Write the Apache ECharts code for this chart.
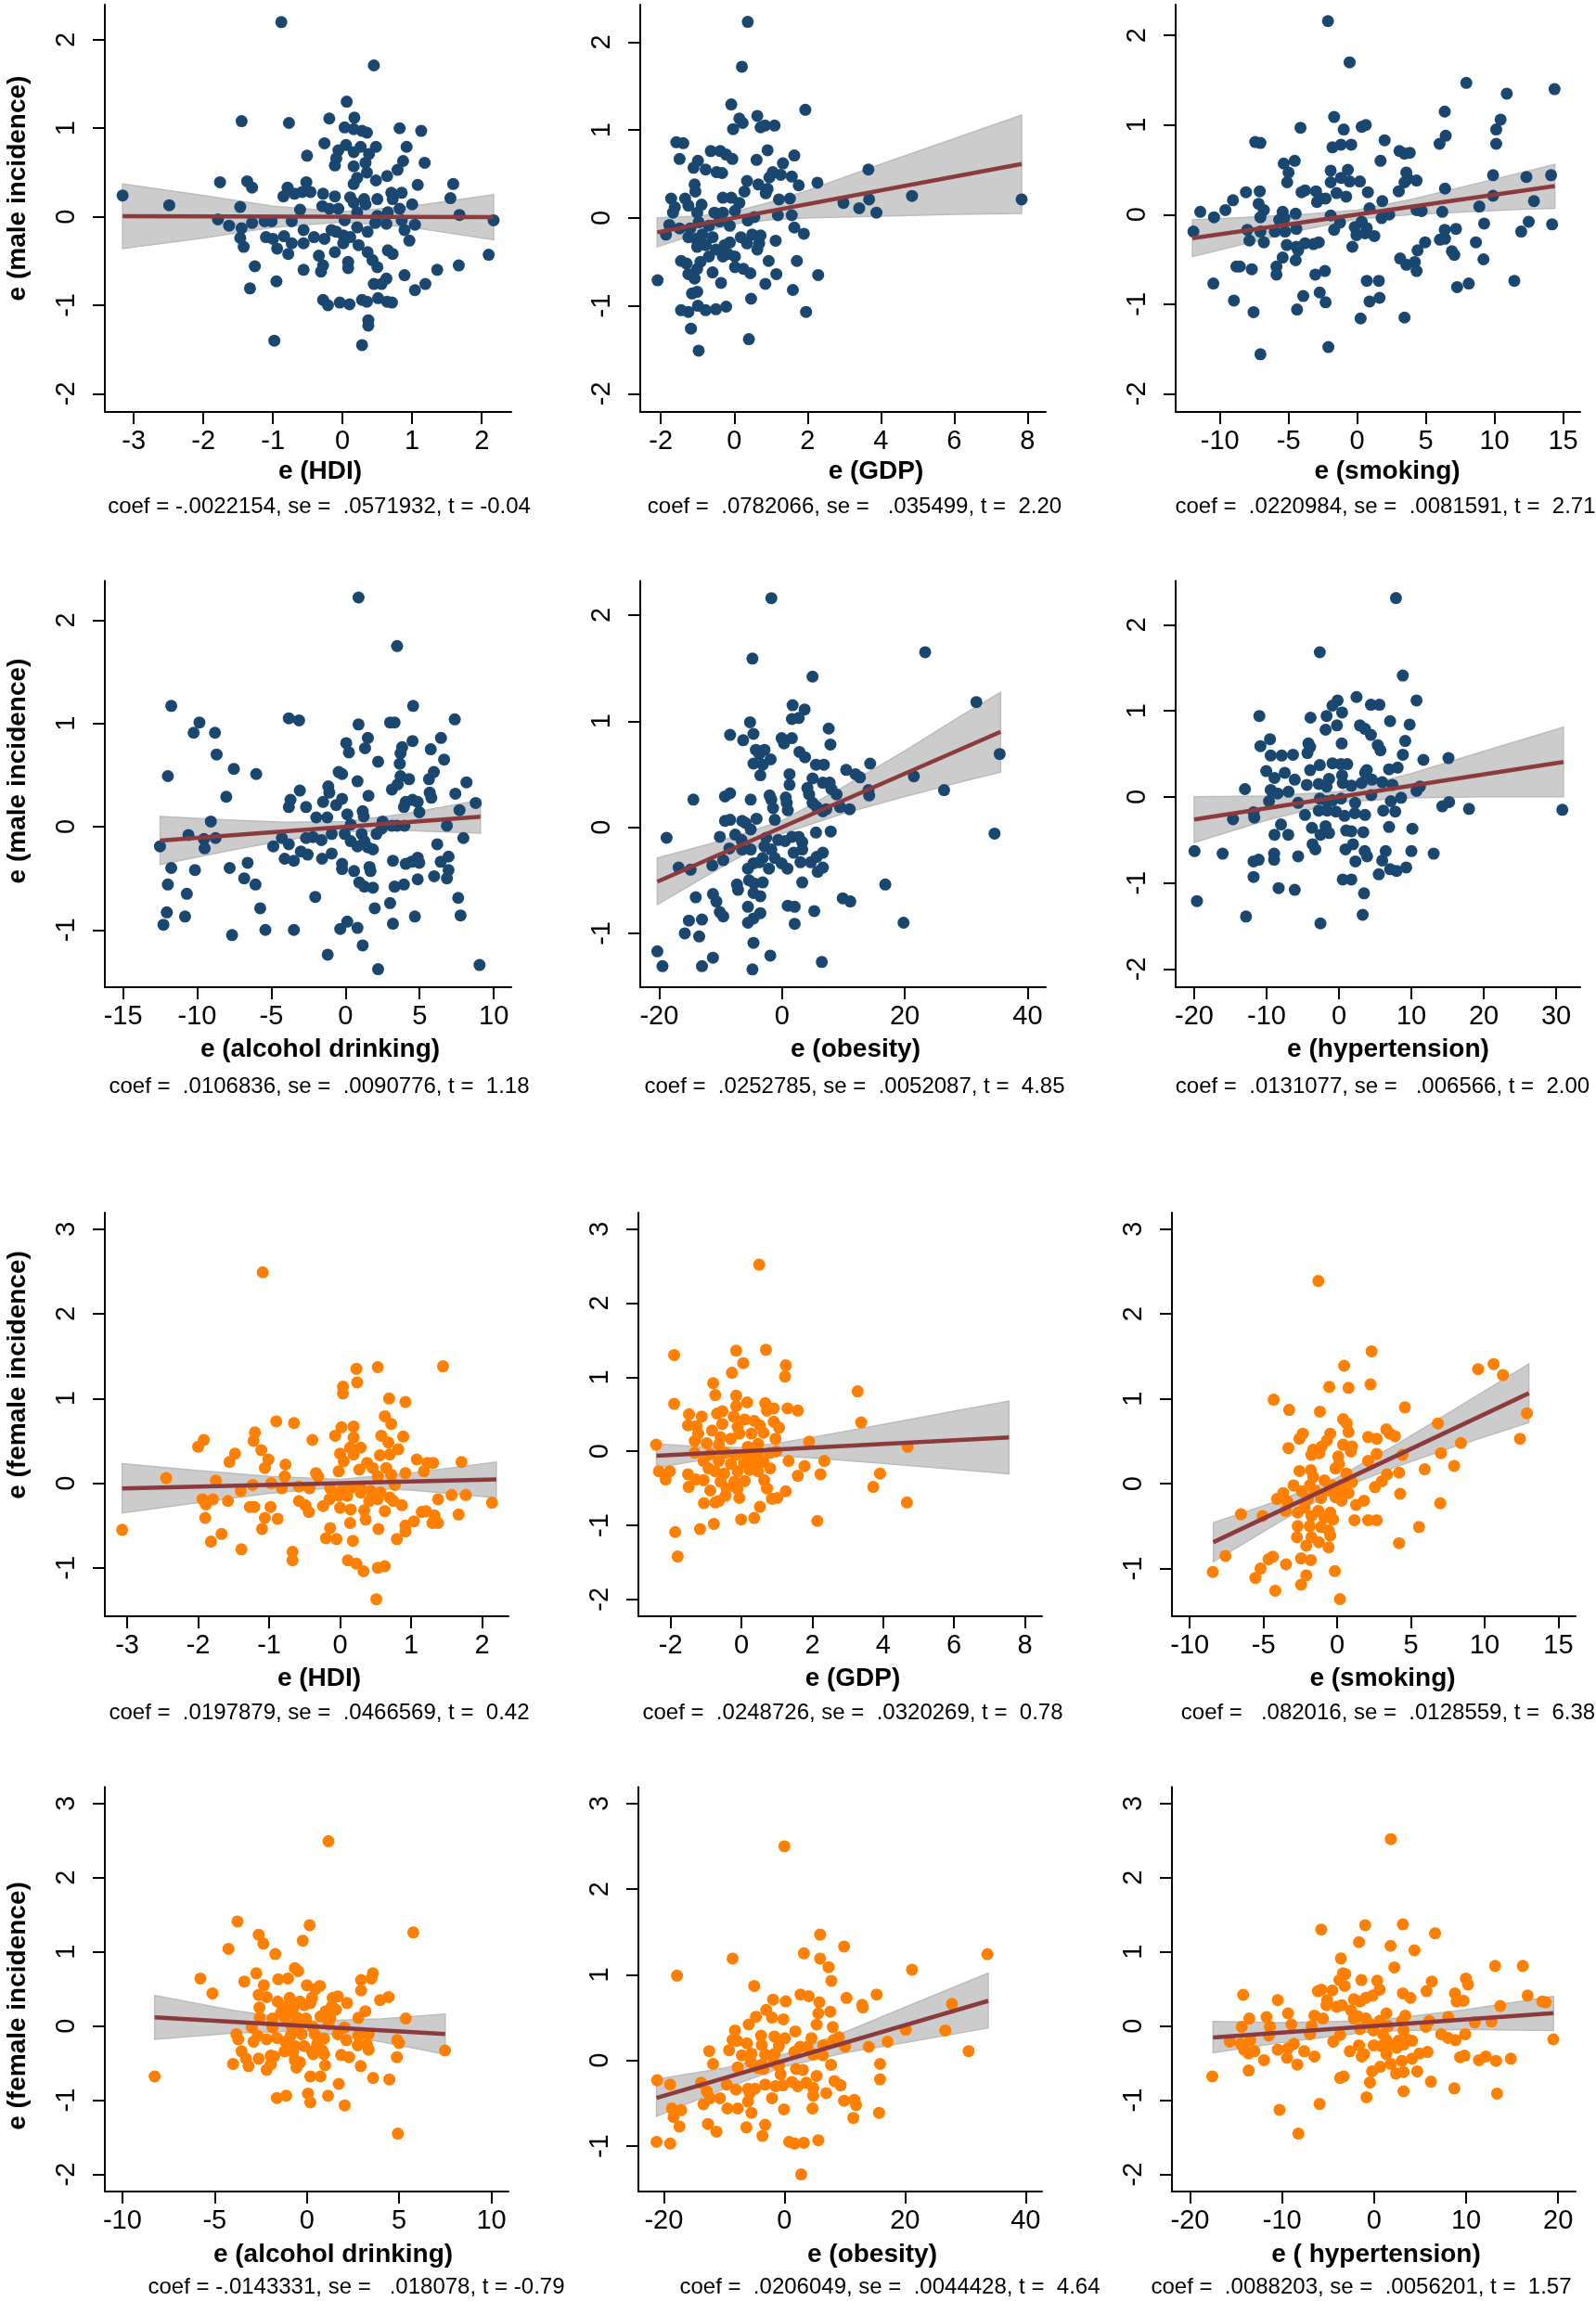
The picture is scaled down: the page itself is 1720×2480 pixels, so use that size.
<!DOCTYPE html>
<html><head><meta charset="utf-8">
<script src="https://cdn.jsdelivr.net/npm/echarts@6/dist/echarts.min.js"></script>
<style>html,body{margin:0;padding:0;background:#fff}#c{width:1720px;height:2480px}</style>
</head><body><div id="c"></div>
<script>
// ---------------- DATA ----------------
const maleHDI = [[-0.88,2.20],[0.45,1.71],[0.06,1.30],[-1.45,1.08],[-0.77,1.06],[-0.19,1.11],[0.17,1.12],[0.03,1.01],[0.16,0.99],[0.28,0.97],[0.35,0.95],[0.82,1.00],[1.13,0.97],[-0.26,0.83],[0.05,0.81],[0.26,0.79],[0.48,0.79],[0.92,0.79],[-0.06,0.75],[0.16,0.73],[0.38,0.71],[-0.51,0.69],[-0.09,0.66],[-0.11,0.58],[0.16,0.57],[0.33,0.61],[0.87,0.63],[1.18,0.61],[0.79,0.53],[0.35,0.50],[0.64,0.46],[0.21,0.44],[0.48,0.41],[-1.76,0.39],[-1.37,0.40],[-1.30,0.33],[-0.52,0.39],[0.16,0.37],[1.08,0.36],[1.59,0.37],[-3.16,0.24],[-2.49,0.13],[-1.47,0.11],[-0.79,0.33],[-0.85,0.23],[-0.69,0.26],[-0.58,0.28],[-0.46,0.28],[-0.28,0.26],[-0.11,0.23],[0.11,0.22],[0.31,0.20],[0.50,0.20],[0.70,0.27],[0.85,0.27],[0.72,0.20],[1.00,0.14],[1.55,0.21],[1.68,0.02],[-0.29,0.12],[-0.19,0.09],[-0.06,0.09],[-0.61,0.08],[0.16,0.16],[0.33,0.14],[0.21,0.05],[0.82,0.09],[0.65,0.05],[0.50,0.01],[-1.79,-0.03],[-1.63,-0.10],[-1.45,-0.13],[-1.30,-0.07],[-1.12,-0.05],[-1.02,-0.05],[-0.73,-0.05],[0.03,-0.04],[0.21,-0.12],[0.47,-0.07],[0.63,-0.08],[0.85,-0.04],[1.04,-0.09],[0.89,-0.15],[2.17,-0.04],[-1.47,-0.24],[-1.42,-0.34],[-1.10,-0.23],[-1.00,-0.25],[-0.94,-0.36],[-0.84,-0.22],[-0.73,-0.30],[-0.78,-0.42],[-0.56,-0.15],[-0.56,-0.30],[-0.41,-0.23],[-0.26,-0.25],[-0.16,-0.15],[-0.09,-0.17],[0.01,-0.21],[0.11,-0.23],[0.01,-0.30],[-0.11,-0.40],[0.23,-0.32],[0.36,-0.17],[0.96,-0.27],[0.36,-0.40],[0.43,-0.49],[0.50,-0.57],[0.65,-0.38],[0.72,-0.42],[-0.34,-0.44],[-0.28,-0.55],[-0.31,-0.62],[0.08,-0.51],[0.08,-0.58],[-0.56,-0.60],[-1.26,-0.56],[1.36,-0.60],[1.67,-0.55],[2.10,-0.43],[0.63,-0.70],[0.45,-0.76],[0.56,-0.76],[0.89,-0.66],[1.04,-0.83],[1.19,-0.76],[-0.95,-0.73],[-1.33,-0.81],[-0.28,-0.94],[-0.21,-1.00],[-0.04,-0.97],[0.10,-0.99],[0.28,-0.94],[0.35,-0.96],[0.51,-0.92],[0.64,-0.96],[0.71,-0.97],[0.37,-1.17],[0.37,-1.23],[-0.98,-1.40],[0.28,-1.45]];
const maleGDP = [[0.37,2.23],[0.21,1.72],[-0.08,1.29],[1.94,1.23],[0.14,1.13],[0.23,1.08],[0.63,1.16],[-0.03,1.01],[0.72,1.03],[0.84,1.05],[1.10,1.05],[-1.58,0.86],[-1.39,0.85],[-0.64,0.76],[-0.38,0.76],[-0.22,0.72],[-0.05,0.67],[0.91,0.77],[1.64,0.71],[-1.49,0.67],[-0.99,0.65],[0.61,0.66],[1.33,0.62],[-1.11,0.57],[-0.78,0.55],[-0.48,0.52],[-0.33,0.51],[1.05,0.52],[1.27,0.49],[1.57,0.47],[0.35,0.42],[0.96,0.46],[2.27,0.40],[-1.08,0.38],[0.66,0.38],[1.76,0.37],[0.91,0.33],[-1.06,0.30],[0.28,0.30],[0.86,0.28],[-1.72,0.22],[-1.34,0.22],[-0.31,0.23],[-0.08,0.23],[0.14,0.17],[1.22,0.21],[1.52,0.22],[2.98,0.17],[3.41,0.11],[3.68,0.21],[3.66,0.55],[4.85,0.25],[3.88,0.06],[7.84,0.21],[-1.62,0.12],[-1.25,0.14],[-0.89,0.15],[-1.01,0.06],[-0.54,0.06],[-0.31,0.06],[0.02,0.08],[-1.67,0.06],[1.19,0.03],[1.57,0.03],[0.55,0.01],[-1.77,-0.08],[-1.86,-0.19],[-1.49,-0.12],[-1.20,-0.12],[-0.97,-0.05],[-0.69,-0.09],[-0.40,-0.04],[-0.12,-0.09],[0.37,-0.03],[1.64,-0.11],[1.90,-0.18],[-1.25,-0.22],[-1.04,-0.24],[-0.87,-0.19],[-0.59,-0.22],[-1.01,-0.33],[-0.78,-0.31],[-0.50,-0.36],[-0.26,-0.31],[-0.12,-0.28],[0.18,-0.22],[0.35,-0.29],[0.49,-0.19],[0.72,-0.20],[0.68,-0.29],[1.13,-0.26],[0.63,-0.36],[-0.69,-0.44],[-0.31,-0.44],[0.02,-0.44],[-0.17,-0.41],[-1.45,-0.49],[-1.30,-0.52],[-0.92,-0.50],[-1.01,-0.58],[0.94,-0.49],[1.71,-0.49],[-0.59,-0.62],[0.02,-0.56],[0.25,-0.58],[0.44,-0.63],[1.15,-0.64],[2.29,-0.65],[-1.25,-0.64],[-1.08,-0.69],[-2.09,-0.71],[-0.36,-0.74],[0.85,-0.75],[-1.15,-0.86],[-1.01,-0.84],[1.60,-0.82],[0.46,-0.92],[-1.45,-1.05],[-1.25,-1.07],[-0.99,-1.00],[-0.78,-1.05],[-0.50,-1.04],[-0.22,-1.01],[1.96,-1.07],[-1.18,-1.26],[0.40,-1.38],[-0.97,-1.51]];
const maleSmoking = [[-2.13,2.16],[-0.55,1.70],[7.95,1.47],[10.9,1.35],[14.38,1.40],[6.38,1.15],[10.45,1.06],[10.13,0.95],[6.45,0.88],[10.13,0.79],[6.0,0.79],[-1.68,1.09],[-4.13,0.97],[-0.98,0.95],[0.33,0.98],[0.63,1.00],[-7.43,0.81],[-7.05,0.80],[-1.8,0.75],[-1.18,0.78],[-0.43,0.78],[2.0,0.83],[3.08,0.71],[3.45,0.68],[3.83,0.69],[-4.55,0.60],[-5.35,0.57],[1.7,0.60],[-5.0,0.47],[-1.93,0.49],[-0.68,0.50],[-1.18,0.41],[-0.55,0.37],[0.2,0.37],[3.58,0.47],[3.7,0.40],[4.33,0.38],[3.45,0.36],[9.9,0.44],[12.33,0.42],[14.13,0.44],[-5.1,0.36],[-1.93,0.36],[6.4,0.29],[-7.1,0.26],[-8.1,0.25],[-3.8,0.27],[-4.05,0.25],[-3.0,0.26],[-1.5,0.24],[-0.8,0.20],[0.78,0.25],[3.03,0.26],[-9.05,0.16],[-2.68,0.18],[-2.3,0.18],[-2.93,0.14],[1.83,0.15],[9.9,0.21],[12.88,0.15],[-11.43,0.03],[-9.6,0.05],[-10.43,-0.03],[-7.18,0.12],[-6.8,0.05],[-7.05,-0.03],[-5.43,0.03],[-4.48,0.01],[-5.3,-0.04],[-5.68,-0.06],[-1.93,-0.01],[0.9,0.07],[1.78,-0.04],[2.33,0.0],[4.33,0.05],[4.7,0.04],[6.2,0.03],[8.9,0.09],[-11.93,-0.19],[-8.0,-0.17],[-7.05,-0.19],[-6.0,-0.19],[-5.25,-0.19],[-4.43,-0.16],[-1.68,-0.17],[-1.25,-0.09],[-0.18,-0.14],[0.33,-0.08],[0.7,-0.15],[-0.05,-0.23],[0.58,-0.21],[1.25,-0.24],[6.38,-0.17],[7.2,-0.16],[9.25,-0.10],[11.95,-0.19],[12.5,-0.08],[14.2,-0.11],[-7.85,-0.29],[-6.8,-0.31],[-5.13,-0.34],[-4.43,-0.36],[-3.8,-0.32],[-3.18,-0.33],[-2.8,-0.31],[-0.35,-0.36],[4.95,-0.31],[6.03,-0.28],[6.4,-0.27],[8.65,-0.31],[-4.3,-0.40],[6.9,-0.41],[7.08,-0.45],[4.4,-0.40],[-5.43,-0.48],[-4.48,-0.51],[3.13,-0.49],[3.58,-0.56],[4.2,-0.53],[9.2,-0.50],[4.33,-0.63],[-8.8,-0.58],[-8.55,-0.58],[-7.68,-0.61],[-5.88,-0.58],[-5.88,-0.67],[-3.05,-0.67],[-2.35,-0.63],[0.7,-0.74],[1.58,-0.74],[7.28,-0.81],[8.13,-0.77],[11.45,-0.74],[-10.48,-0.77],[-2.73,-0.87],[-3.93,-0.91],[0.9,-0.97],[1.63,-0.93],[-8.98,-0.96],[-2.3,-0.98],[-4.38,-1.06],[-7.55,-1.09],[0.25,-1.16],[3.45,-1.15],[-2.1,-1.48],[-7.05,-1.56]];
const maleAlcohol = [[0.88,2.22],[3.48,1.75],[-11.75,1.17],[4.56,1.17],[-9.85,1.01],[-3.82,1.05],[-3.13,1.03],[0.88,0.99],[3.01,1.01],[3.31,1.01],[7.37,1.04],[-10.24,0.91],[-8.8,0.91],[1.51,0.86],[4.52,0.83],[0.05,0.81],[0.23,0.72],[1.32,0.76],[3.82,0.77],[5.75,0.75],[6.44,0.86],[-8.69,0.70],[3.71,0.71],[3.66,0.61],[2.2,0.63],[6.65,0.65],[-7.53,0.56],[-6.02,0.51],[-11.98,0.49],[-0.46,0.53],[-0.23,0.51],[3.71,0.49],[4.29,0.46],[5.63,0.46],[5.96,0.53],[0.81,0.44],[8.16,0.43],[-1.16,0.39],[-1.09,0.33],[-3.08,0.35],[3.13,0.36],[5.68,0.33],[5.79,0.28],[1.55,0.30],[7.41,0.32],[3.52,0.41],[-8.04,0.29],[-3.71,0.26],[-3.82,0.19],[-1.51,0.24],[-0.63,0.21],[-0.23,0.27],[4.06,0.24],[4.52,0.26],[4.87,0.24],[3.94,0.19],[8.78,0.23],[-2.66,0.19],[0.12,0.12],[1.16,0.15],[4.98,0.14],[7.69,0.16],[-9.08,0.05],[-1.97,0.09],[-1.23,0.09],[1.23,0.10],[2.5,0.05],[3.48,0.01],[3.98,0.01],[0.35,0.02],[6.84,0.01],[-12.51,-0.19],[-10.59,-0.08],[-9.55,-0.12],[-8.76,-0.11],[-9.5,-0.21],[-4.87,-0.19],[-4.29,-0.11],[-3.82,-0.17],[-2.66,-0.11],[-2.2,-0.10],[-1.62,-0.13],[-0.93,-0.07],[-0.05,-0.07],[0.35,-0.14],[0.81,-0.19],[1.09,-0.07],[1.27,-0.14],[1.51,-0.20],[1.85,-0.22],[2.09,-0.07],[2.43,-0.02],[3.13,0.01],[7.95,-0.11],[6.19,-0.17],[-11.75,-0.40],[-10.15,-0.42],[-7.81,-0.40],[-6.6,-0.35],[-4.1,-0.31],[-3.48,-0.33],[-3.01,-0.24],[-2.55,-0.27],[-1.58,-0.31],[-0.93,-0.26],[-0.23,-0.36],[-0.23,-0.41],[0.58,-0.43],[1.62,-0.39],[1.69,-0.43],[3.2,-0.33],[4.06,-0.36],[4.45,-0.34],[4.87,-0.30],[4.98,-0.35],[6.42,-0.34],[6.95,-0.29],[6.95,-0.42],[5.98,-0.48],[6.84,-0.50],[4.87,-0.51],[-11.98,-0.56],[-6.83,-0.50],[-6.07,-0.56],[0.93,-0.54],[1.27,-0.58],[1.85,-0.59],[3.31,-0.58],[3.94,-0.56],[-10.7,-0.65],[-2.04,-0.68],[7.6,-0.69],[3.01,-0.74],[-12.05,-0.83],[-5.75,-0.79],[1.97,-0.79],[-10.82,-0.87],[4.68,-0.87],[7.76,-0.86],[-12.28,-0.95],[0.12,-0.92],[-0.35,-0.99],[0.81,-0.98],[3.2,-0.94],[-5.4,-1.00],[-3.48,-1.00],[-7.65,-1.05],[1.16,-1.15],[-1.2,-1.24],[2.2,-1.38],[9.04,-1.34]];
const maleObesity = [[-1.73,2.16],[-4.81,1.59],[23.32,1.65],[4.98,1.42],[31.66,1.18],[1.73,1.15],[3.69,1.11],[1.62,1.02],[2.74,1.03],[-5.2,0.99],[7.61,0.93],[-8.45,0.87],[-6.32,0.82],[-4.64,0.88],[-0.06,0.84],[0.34,0.79],[1.62,0.84],[7.89,0.78],[-4.25,0.73],[-2.85,0.73],[-3.69,0.69],[-1.85,0.64],[-4.64,0.60],[-3.13,0.59],[-3.52,0.49],[2.85,0.71],[3.75,0.66],[5.54,0.59],[6.82,0.59],[14.37,0.60],[10.46,0.54],[11.97,0.50],[12.7,0.47],[21.48,0.48],[35.46,0.69],[1.23,0.50],[1.23,0.40],[4.98,0.46],[6.66,0.42],[7.77,0.42],[4.14,0.37],[4.42,0.31],[8.05,0.36],[8.89,0.31],[14.09,0.35],[14.2,0.30],[26.4,0.35],[-9.28,0.29],[-8.45,0.32],[-14.43,0.26],[-5.09,0.26],[-2.01,0.30],[-1.73,0.26],[0.62,0.28],[0.78,0.23],[0.95,0.16],[-1.45,0.18],[4.98,0.23],[5.65,0.19],[6.66,0.15],[7.21,0.17],[9.45,0.19],[11.02,0.17],[-9.28,0.06],[-8.45,0.07],[-6.49,0.06],[-5.93,0.04],[-4.14,0.08],[-1.17,0.07],[-5.09,-0.02],[-7.61,-0.07],[-10.12,-0.09],[-18.79,-0.10],[5.54,-0.05],[7.94,-0.04],[-6.6,-0.12],[-2.57,-0.10],[-0.62,-0.12],[0.5,-0.13],[1.62,-0.09],[2.74,-0.09],[3.3,-0.14],[-8.56,-0.20],[-6.49,-0.21],[-5.09,-0.21],[-2.85,-0.18],[-1.73,-0.21],[1.9,-0.24],[3.3,-0.21],[6.66,-0.24],[5.65,-0.28],[-9.56,-0.31],[-3.13,-0.29],[-1.17,-0.29],[-16.83,-0.38],[-14.88,-0.40],[-11.35,-0.36],[-5.54,-0.39],[-4.64,-0.34],[-3.69,-0.33],[-2.12,-0.39],[-0.06,-0.34],[0.89,-0.39],[3.02,-0.33],[4.7,-0.33],[6.66,-0.38],[5.82,-0.42],[-7.33,-0.54],[-7.16,-0.59],[-5.37,-0.50],[-4.53,-0.53],[-3.13,-0.52],[3.3,-0.52],[16.83,-0.54],[-4.64,-0.62],[-3.52,-0.65],[-14.04,-0.66],[-11.24,-0.63],[-10.68,-0.70],[-5.54,-0.75],[0.95,-0.74],[2.07,-0.75],[9.9,-0.67],[11.13,-0.70],[-10.12,-0.80],[-9.56,-0.84],[-3.52,-0.81],[-4.64,-0.86],[5.26,-0.79],[-5.54,-0.90],[-15.16,-0.88],[-13.03,-0.87],[19.8,-0.90],[2.07,-0.91],[-15.83,-1.00],[-13.48,-1.03],[-4.64,-1.09],[-20.3,-1.17],[-1.9,-1.21],[-11.24,-1.23],[6.49,-1.27],[-19.46,-1.31],[-13.03,-1.31],[-4.81,-1.34],[34.62,-0.06]];
const maleHypertension = [[7.87,2.31],[-2.65,1.68],[8.82,1.41],[2.42,1.16],[10.71,1.12],[4.41,1.07],[5.59,1.07],[-0.19,1.12],[-0.9,1.06],[0.43,0.98],[-11.0,0.94],[-3.93,0.92],[-1.71,0.94],[7.06,0.88],[-0.28,0.83],[2.89,0.83],[3.6,0.79],[-1.85,0.78],[9.76,0.84],[4.41,0.72],[-9.53,0.67],[-4.22,0.62],[0.38,0.62],[9.15,0.65],[-10.85,0.59],[-3.98,0.58],[5.36,0.60],[5.73,0.54],[-4.36,0.51],[-9.43,0.48],[-7.91,0.48],[-6.35,0.49],[8.82,0.49],[11.66,0.43],[15.12,0.45],[-10.05,0.30],[-3.98,0.31],[-2.65,0.37],[-0.9,0.39],[0.28,0.38],[1.14,0.38],[3.84,0.31],[6.92,0.32],[8.1,0.34],[-7.49,0.28],[-8.91,0.22],[-6.11,0.20],[-1.37,0.21],[0.43,0.25],[3.6,0.28],[-12.99,0.09],[-9.43,0.08],[-8.48,0.04],[-6.97,0.06],[-4.45,0.14],[-2.8,0.15],[-1.71,0.12],[0.52,0.16],[1.71,0.13],[3.13,0.16],[4.55,0.20],[5.97,0.17],[7.39,0.14],[10.71,0.07],[11.18,0.12],[-9.67,-0.05],[-5.64,-0.07],[-2.65,-0.02],[-1.71,-0.05],[-0.9,-0.04],[0.28,-0.02],[2.23,-0.07],[4.46,0.02],[7.16,-0.05],[8.58,-0.01],[15.21,-0.06],[14.27,-0.11],[17.96,-0.14],[30.85,-0.15],[-14.64,-0.26],[-11.8,-0.18],[-11.7,-0.24],[-4.69,-0.21],[-2.8,-0.16],[-1.61,-0.16],[-0.43,-0.17],[0.76,-0.22],[2.18,-0.19],[3.6,-0.21],[6.11,-0.16],[7.77,-0.17],[-8.01,-0.32],[-3.74,-0.36],[-1.85,-0.34],[-1.37,-0.42],[0.99,-0.39],[1.71,-0.40],[3.36,-0.41],[6.92,-0.35],[10.14,-0.37],[-8.91,-0.44],[-7.01,-0.44],[-2.56,-0.44],[-3.65,-0.55],[-3.27,-0.61],[1.94,-0.55],[0.9,-0.61],[3.55,-0.63],[3.88,-0.69],[6.45,-0.63],[10.0,-0.63],[13.08,-0.66],[-19.95,-0.63],[-16.07,-0.66],[-8.96,-0.66],[-5.64,-0.69],[-8.96,-0.73],[-11.8,-0.75],[-11.09,-0.73],[2.27,-0.75],[5.97,-0.74],[7.06,-0.84],[7.96,-0.86],[9.29,-0.82],[-11.8,-0.93],[5.5,-0.90],[0.52,-0.96],[1.71,-0.96],[-8.34,-1.06],[-6.11,-1.08],[3.46,-1.12],[-19.62,-1.21],[-12.84,-1.39],[3.27,-1.37],[-2.56,-1.47]];
const femaleHDI = [[-1.09,2.49],[0.23,1.35],[0.53,1.37],[1.45,1.38],[0.24,1.19],[0.04,1.14],[0.04,1.06],[0.69,1.00],[0.92,0.96],[-0.9,0.73],[-0.65,0.71],[0.63,0.79],[0.72,0.70],[0.19,0.67],[0.02,0.66],[-1.2,0.60],[-1.92,0.51],[-1.22,0.50],[-0.39,0.51],[-0.07,0.56],[0.19,0.54],[0.58,0.56],[0.89,0.55],[0.68,0.48],[-2.0,0.43],[-1.11,0.39],[0.14,0.42],[0.29,0.42],[0.82,0.40],[-1.48,0.35],[0.0,0.35],[0.19,0.34],[0.56,0.33],[0.70,0.34],[-1.56,0.25],[-1.01,0.28],[-0.77,0.22],[0.05,0.26],[0.38,0.24],[1.08,0.28],[1.31,0.24],[1.71,0.25],[-1.06,0.18],[-0.34,0.12],[-0.02,0.14],[0.27,0.16],[0.46,0.18],[0.65,0.18],[0.92,0.12],[1.18,0.14],[1.23,0.24],[-2.45,0.06],[-0.78,0.08],[-0.31,0.08],[0.53,0.08],[0.72,0.10],[-1.75,0.03],[-1.23,-0.02],[-0.97,0.0],[-0.82,-0.06],[-0.58,-0.04],[-0.43,-0.06],[-0.14,-0.06],[0.02,-0.09],[0.14,-0.06],[0.29,-0.06],[0.43,-0.09],[0.77,-0.02],[-1.4,-0.09],[-0.15,-0.19],[-0.02,-0.15],[0.10,-0.15],[0.29,-0.11],[0.57,-0.11],[0.70,-0.17],[1.57,-0.14],[1.77,-0.14],[-1.94,-0.19],[-1.79,-0.19],[-1.89,-0.25],[-1.58,-0.21],[-0.58,-0.21],[-0.49,-0.26],[0.41,-0.21],[0.53,-0.19],[1.38,-0.19],[2.14,-0.23],[-0.24,-0.27],[0.0,-0.29],[0.15,-0.31],[0.34,-0.32],[0.75,-0.21],[0.87,-0.26],[-1.27,-0.28],[-1.21,-0.28],[-0.98,-0.28],[-0.44,-0.34],[0.63,-0.33],[1.15,-0.34],[1.21,-0.33],[1.33,-0.38],[1.67,-0.37],[0.36,-0.43],[-1.06,-0.41],[-0.88,-0.42],[-1.9,-0.41],[1.04,-0.45],[1.30,-0.47],[1.38,-0.47],[0.14,-0.47],[0.92,-0.50],[-0.14,-0.53],[-1.1,-0.54],[0.54,-0.54],[-3.07,-0.55],[0.92,-0.57],[-1.67,-0.60],[-0.2,-0.65],[-0.05,-0.66],[0.18,-0.68],[0.8,-0.66],[-1.82,-0.69],[-1.39,-0.78],[-0.67,-0.81],[-0.67,-0.91],[0.11,-0.91],[0.23,-0.95],[0.33,-1.04],[0.53,-1.00],[0.63,-0.98],[0.51,-1.37]];
const femaleGDP = [[0.5,2.52],[-1.9,1.30],[-0.15,1.36],[0.69,1.37],[0.05,1.19],[1.25,1.16],[-0.27,1.06],[1.23,1.01],[-0.80,0.92],[3.28,0.81],[-0.74,0.76],[-0.15,0.75],[-1.9,0.64],[0.16,0.66],[0.67,0.65],[-0.15,0.61],[0.91,0.58],[0.72,0.55],[1.30,0.58],[1.59,0.55],[-0.69,0.51],[-0.54,0.54],[-1.48,0.50],[-1.12,0.47],[-0.22,0.47],[0.09,0.43],[0.36,0.41],[3.38,0.39],[0.91,0.40],[-1.51,0.35],[-1.27,0.34],[-0.54,0.37],[-0.11,0.33],[0.52,0.35],[1.06,0.32],[-0.83,0.28],[-0.06,0.24],[0.28,0.24],[0.62,0.25],[-1.22,0.24],[-0.59,0.19],[-0.30,0.17],[0.96,0.17],[1.91,0.13],[-2.41,0.09],[-1.32,0.14],[-0.98,0.11],[-0.64,0.09],[0.18,0.06],[0.47,0.10],[0.98,0.0],[4.69,0.06],[-1.32,-0.02],[-0.88,-0.04],[-0.45,-0.02],[-0.17,-0.05],[0.14,-0.04],[0.47,-0.04],[0.81,-0.02],[-1.07,-0.13],[-0.64,-0.13],[-0.30,-0.17],[0.07,-0.16],[0.33,-0.14],[0.62,-0.14],[1.33,-0.13],[2.34,-0.13],[-2.33,-0.27],[-2.02,-0.27],[-2.14,-0.38],[-1.51,-0.31],[-0.93,-0.23],[-0.74,-0.27],[-0.49,-0.30],[-0.11,-0.27],[0.23,-0.25],[0.47,-0.27],[0.81,-0.23],[1.78,-0.20],[1.59,-0.33],[2.23,-0.31],[3.91,-0.30],[-1.29,-0.38],[-1.07,-0.39],[-0.59,-0.41],[-0.20,-0.41],[0.09,-0.40],[0.64,-0.39],[-1.49,-0.48],[-0.88,-0.53],[-0.42,-0.50],[-0.11,-0.51],[0.72,-0.50],[1.25,-0.54],[3.72,-0.48],[-0.45,-0.60],[-0.06,-0.63],[0.86,-0.64],[1.01,-0.63],[-1.06,-0.70],[-0.74,-0.69],[-0.64,-0.67],[4.67,-0.69],[0.52,-0.75],[0.36,-0.90],[-0.01,-0.92],[2.14,-0.94],[-0.78,-0.98],[-1.17,-1.05],[-1.87,-1.09],[-1.80,-1.42]];
const femaleSmoking = [[-1.28,2.39],[2.33,1.56],[0.47,1.39],[9.56,1.35],[10.61,1.41],[11.24,1.28],[2.26,1.17],[-0.54,1.14],[0.77,1.13],[-4.31,0.99],[4.59,0.90],[-3.26,0.87],[-1.17,0.85],[12.87,0.83],[0.40,0.76],[0.65,0.71],[6.83,0.71],[0.77,0.61],[3.33,0.64],[3.57,0.59],[3.92,0.56],[-0.47,0.59],[-2.33,0.59],[-2.56,0.53],[2.10,0.55],[2.68,0.53],[12.4,0.53],[8.39,0.48],[-0.70,0.51],[-1.05,0.44],[0.40,0.46],[1.00,0.44],[-3.31,0.42],[-1.63,0.40],[-1.75,0.34],[-1.21,0.36],[0.93,0.38],[2.68,0.35],[7.04,0.36],[4.43,0.34],[0.07,0.32],[0.12,0.23],[2.10,0.27],[7.93,0.21],[5.94,0.17],[-2.56,0.15],[-1.79,0.16],[-0.12,0.18],[0.63,0.12],[4.20,0.13],[3.38,0.11],[-1.63,0.08],[-0.86,0.04],[1.00,0.02],[3.03,0.03],[-2.96,-0.02],[-1.86,-0.02],[-0.35,-0.02],[0.35,-0.01],[2.56,-0.04],[-3.66,-0.11],[-2.40,-0.09],[-1.52,-0.08],[-0.58,-0.08],[0.23,-0.09],[0.77,-0.11],[4.27,-0.12],[-4.08,-0.18],[-3.38,-0.21],[-1.98,-0.18],[-1.10,-0.17],[-0.12,-0.16],[0.30,-0.20],[1.28,-0.25],[1.82,-0.20],[6.99,-0.23],[-3.50,-0.32],[-2.68,-0.34],[-2.21,-0.28],[-1.28,-0.32],[-0.47,-0.34],[-0.28,-0.42],[-6.53,-0.36],[-5.06,-0.38],[-1.75,-0.38],[-0.86,-0.40],[1.17,-0.43],[2.10,-0.43],[2.68,-0.43],[-2.68,-0.50],[-1.86,-0.50],[-1.10,-0.51],[-0.58,-0.55],[5.55,-0.51],[-2.73,-0.63],[-1.75,-0.63],[-0.47,-0.61],[-2.10,-0.73],[-1.24,-0.69],[-0.58,-0.75],[4.20,-0.70],[-7.58,-0.85],[-4.36,-0.86],[-4.66,-0.89],[-2.45,-0.88],[-1.79,-0.90],[-3.47,-0.95],[-5.20,-1.00],[-8.44,-1.04],[-0.16,-1.03],[-5.55,-1.11],[-2.10,-1.08],[-2.45,-1.19],[-4.20,-1.26],[0.19,-1.36]];
const femaleAlcohol = [[1.17,2.49],[-3.76,1.41],[0.15,1.36],[5.77,1.26],[-2.61,1.23],[-2.36,1.11],[-0.22,1.15],[-4.25,1.04],[-1.71,0.97],[-0.65,0.78],[-0.47,0.74],[-2.74,0.71],[3.58,0.71],[-5.77,0.64],[-3.39,0.60],[-1.55,0.63],[-1.02,0.64],[2.94,0.62],[3.50,0.64],[-2.33,0.55],[0.0,0.55],[0.71,0.54],[0.47,0.50],[-5.12,0.44],[2.94,0.48],[-2.61,0.42],[-2.18,0.39],[-0.93,0.38],[0.28,0.38],[1.40,0.38],[1.68,0.40],[3.97,0.35],[4.43,0.39],[-1.58,0.33],[-0.37,0.33],[0.19,0.31],[2.18,0.31],[1.36,0.27],[-2.57,0.25],[-1.30,0.26],[-0.74,0.24],[-0.13,0.28],[-1.40,0.18],[-0.88,0.17],[1.02,0.20],[1.58,0.22],[3.17,0.20],[-2.55,0.11],[-1.86,0.10],[-1.21,0.12],[-0.50,0.11],[-0.04,0.10],[0.74,0.13],[1.27,0.10],[2.79,0.11],[5.36,0.10],[-2.98,-0.02],[-1.86,-0.02],[-0.84,0.0],[-0.50,-0.02],[0.32,-0.01],[1.17,0.02],[2.05,-0.02],[-3.82,-0.11],[-3.72,-0.18],[-2.66,-0.13],[-2.18,-0.18],[-1.62,-0.16],[-0.88,-0.13],[-0.28,-0.11],[0.43,-0.11],[0.93,-0.17],[1.68,-0.11],[2.79,-0.13],[3.35,-0.11],[-2.89,-0.21],[-1.17,-0.21],[-0.65,-0.27],[-0.15,-0.27],[0.56,-0.24],[2.14,-0.19],[4.90,-0.19],[5.0,-0.23],[2.76,-0.26],[3.26,-0.25],[7.49,-0.33],[-3.54,-0.34],[-1.21,-0.34],[-0.74,-0.35],[0.28,-0.34],[0.84,-0.33],[3.35,-0.32],[-1.96,-0.40],[-1.77,-0.41],[0.34,-0.38],[0.93,-0.38],[1.86,-0.39],[2.29,-0.42],[4.88,-0.42],[-3.30,-0.44],[-2.61,-0.44],[-0.65,-0.46],[-0.37,-0.49],[0.99,-0.53],[-4.00,-0.51],[-3.16,-0.54],[-1.96,-0.52],[-0.56,-0.56],[-2.18,-0.59],[2.92,-0.54],[0.19,-0.68],[0.74,-0.68],[3.59,-0.70],[4.47,-0.72],[-8.25,-0.68],[1.73,-0.78],[-1.62,-0.97],[-1.12,-0.94],[0.06,-0.91],[1.15,-0.94],[0.19,-1.03],[2.05,-1.07],[4.93,-1.45]];
const femaleObesity = [[0.0,2.50],[5.92,1.47],[9.90,1.33],[33.67,1.24],[3.24,1.25],[-8.59,1.19],[5.92,1.19],[7.34,1.09],[21.16,1.06],[-17.80,0.99],[7.79,0.93],[-5.01,0.87],[2.67,0.77],[4.04,0.75],[15.30,0.77],[-1.88,0.71],[0.23,0.69],[5.80,0.68],[10.30,0.73],[12.91,0.65],[13.02,0.62],[27.8,0.66],[-3.01,0.59],[5.63,0.55],[7.62,0.57],[-4.72,0.51],[-2.05,0.50],[-0.17,0.48],[-5.92,0.42],[5.35,0.42],[1.82,0.34],[8.02,0.39],[-8.19,0.35],[20.14,0.36],[26.68,0.35],[-8.59,0.24],[-7.85,0.23],[-3.87,0.29],[-1.65,0.28],[0.11,0.26],[4.49,0.26],[8.19,0.24],[9.04,0.27],[-9.16,0.12],[-12.46,0.11],[-6.2,0.20],[-3.75,0.18],[-0.91,0.17],[2.62,0.16],[3.81,0.16],[6.48,0.18],[10.07,0.16],[14.0,0.16],[17.12,0.22],[30.55,0.11],[-7.05,0.06],[-5.46,0.08],[-3.19,0.07],[-1.59,0.08],[1.65,0.10],[4.78,0.07],[6.37,0.06],[-11.83,-0.04],[-7.74,-0.08],[-5.57,-0.02],[-3.75,-0.05],[-1.71,-0.02],[-0.91,-0.06],[1.93,-0.10],[3.07,-0.11],[7.74,-0.05],[15.87,-0.04],[-4.32,-0.09],[-3.47,-0.10],[-0.63,-0.16],[5.35,-0.18],[8.30,-0.24],[15.87,-0.22],[-21.1,-0.23],[-18.94,-0.28],[-13.82,-0.26],[-9.56,-0.28],[-8.02,-0.34],[-6.03,-0.33],[-4.89,-0.33],[-3.19,-0.28],[-1.48,-0.30],[-0.23,-0.29],[1.25,-0.25],[2.22,-0.30],[3.64,-0.26],[4.78,-0.32],[6.94,-0.38],[9.33,-0.29],[-12.86,-0.36],[-12.29,-0.44],[-10.69,-0.44],[-6.03,-0.48],[-2.05,-0.44],[4.78,-0.41],[9.90,-0.47],[11.60,-0.46],[-13.42,-0.51],[-5.75,-0.38],[-18.66,-0.56],[-17.12,-0.58],[-18.38,-0.66],[-9.44,-0.56],[-7.74,-0.56],[-5.46,-0.61],[-0.06,-0.57],[4.66,-0.56],[11.89,-0.52],[15.70,-0.61],[11.43,-0.67],[-12.68,-0.74],[-17.4,-0.77],[-11.26,-0.83],[-6.31,-0.78],[-3.19,-0.75],[-3.64,-0.88],[-21.2,-0.95],[-18.94,-0.97],[0.80,-0.95],[1.65,-0.97],[3.24,-0.96],[5.63,-0.93],[2.79,-1.33]];
const femaleHypertension = [[1.82,2.52],[-5.74,1.30],[-0.97,1.36],[3.13,1.37],[6.63,1.25],[-1.64,1.13],[1.79,1.08],[4.39,1.02],[-3.61,0.91],[2.20,0.79],[13.15,0.81],[16.16,0.81],[-3.39,0.71],[-3.13,0.70],[-3.76,0.62],[-1.38,0.62],[0.34,0.61],[6.26,0.60],[9.98,0.64],[10.21,0.56],[-3.20,0.54],[-6.11,0.47],[-5.74,0.49],[-4.54,0.48],[0.60,0.49],[5.70,0.47],[-14.23,0.42],[-0.15,0.41],[3.13,0.44],[3.95,0.38],[8.79,0.44],[16.69,0.41],[-10.47,0.35],[-5.10,0.35],[-2.20,0.36],[-1.53,0.33],[-0.89,0.38],[8.98,0.33],[9.72,0.34],[18.29,0.33],[18.66,0.32],[-5.18,0.28],[-4.06,0.26],[-3.50,0.28],[-2.50,0.21],[13.71,0.27],[-9.35,0.17],[-6.48,0.14],[-1.75,0.13],[1.34,0.17],[3.39,0.14],[-13.56,0.10],[-11.69,0.12],[-5.55,0.10],[-2.20,0.10],[-0.89,0.10],[0.60,0.07],[3.02,0.07],[6.00,0.07],[8.04,0.12],[10.95,0.05],[12.77,0.06],[-14.38,-0.01],[-11.32,-0.01],[-8.98,0.02],[-6.78,0.0],[-0.52,0.03],[1.53,0.0],[5.62,-0.01],[-6.96,-0.11],[-3.69,-0.12],[-1.53,-0.04],[-0.07,-0.06],[0.97,-0.11],[3.20,-0.06],[7.30,-0.11],[9.91,-0.11],[-15.68,-0.21],[-14.49,-0.24],[-13.45,-0.19],[-11.43,-0.13],[-8.72,-0.24],[-4.43,-0.21],[1.34,-0.19],[2.64,-0.20],[3.76,-0.19],[8.04,-0.16],[8.86,-0.19],[19.48,-0.18],[-14.12,-0.32],[-13.00,-0.34],[-10.47,-0.32],[-9.35,-0.30],[-7.60,-0.34],[-2.64,-0.34],[-1.64,-0.26],[-1.08,-0.38],[-0.04,-0.26],[0.78,-0.27],[1.60,-0.25],[2.46,-0.29],[3.20,-0.25],[4.13,-0.20],[4.95,-0.37],[5.81,-0.35],[-13.63,-0.37],[-6.48,-0.41],[-9.46,-0.43],[-11.96,-0.46],[-8.34,-0.52],[-1.34,-0.41],[1.34,-0.38],[3.02,-0.47],[4.13,-0.44],[9.35,-0.42],[9.83,-0.40],[11.40,-0.46],[12.14,-0.41],[13.26,-0.47],[14.86,-0.44],[-13.63,-0.60],[1.82,-0.51],[0.67,-0.55],[-0.22,-0.61],[2.38,-0.64],[3.20,-0.62],[4.69,-0.61],[-17.58,-0.68],[-3.69,-0.70],[-3.31,-0.68],[-0.45,-0.76],[6.18,-0.75],[8.72,-0.84],[3.20,-0.88],[13.37,-0.91],[-0.82,-0.96],[-5.92,-1.05],[-10.28,-1.13],[-8.23,-1.45]];

// fitted lines (endpoints) and confidence bands
const maleHDI_fit = [[-3.16,0.007],[2.17,-0.005]];
const maleHDI_bandX = [-3.16,-2,-1,0,1,2.17];
const maleHDI_bandHi = [0.37,0.24,0.12,0.055,0.12,0.25];
const maleHDI_bandLo = [-0.36,-0.24,-0.12,-0.06,-0.12,-0.26];
const maleGDP_fit = [[-2.1,-0.164],[7.84,0.613]];
const maleGDP_bandX = [-2.1,-1,0,1,2,4,6,7.84];
const maleGDP_bandHi = [0.00,0.02,0.07,0.18,0.31,0.61,0.90,1.17];
const maleGDP_bandLo = [-0.33,-0.18,-0.07,-0.02,0.00,0.02,0.04,0.05];
const maleSmoking_fit = [[-12,-0.265],[14.4,0.318]];
const maleSmoking_bandX = [-12,-8,-4,0,4,8,12,14.4];
const maleSmoking_bandHi = [-0.06,-0.03,0.00,0.05,0.17,0.32,0.47,0.56];
const maleSmoking_bandLo = [-0.47,-0.32,-0.17,-0.05,0.00,0.03,0.06,0.07];
const maleAlcohol_fit = [[-12.5,-0.134],[9.1,0.097]];
const maleAlcohol_bandX = [-12.5,-8,-4,0,4,9.1];
const maleAlcohol_bandHi = [0.10,0.065,0.042,0.05,0.123,0.257];
const maleAlcohol_bandLo = [-0.366,-0.235,-0.128,-0.05,-0.037,-0.063];
const maleObesity_fit = [[-20.3,-0.513],[35.6,0.90]];
const maleObesity_bandX = [-20.3,-10,0,10,20,30,35.6];
const maleObesity_bandHi = [-0.29,-0.13,0.06,0.38,0.72,1.08,1.27];
const maleObesity_bandLo = [-0.73,-0.38,-0.06,0.13,0.29,0.44,0.52];
const maleHypertension_fit = [[-20,-0.262],[31,0.406]];
const maleHypertension_bandX = [-20,-10,0,10,20,31];
const maleHypertension_bandHi = [0.00,0.01,0.06,0.27,0.53,0.81];
const maleHypertension_bandLo = [-0.53,-0.27,-0.06,-0.01,0.00,0.00];
const femaleHDI_fit = [[-3.07,-0.061],[2.2,0.044]];
const femaleHDI_bandX = [-3.07,-2,-1,0,1,2.2];
const femaleHDI_bandHi = [0.23,0.15,0.08,0.045,0.12,0.25];
const femaleHDI_bandLo = [-0.35,-0.23,-0.12,-0.045,-0.08,-0.17];
const femaleGDP_fit = [[-2.4,-0.06],[7.55,0.188]];
const femaleGDP_bandX = [-2.4,-1,0,1,2,4,6,7.55];
const femaleGDP_bandHi = [0.10,0.057,0.05,0.107,0.189,0.363,0.54,0.678];
const femaleGDP_bandLo = [-0.22,-0.107,-0.05,-0.057,-0.089,-0.163,-0.242,-0.302];
const femaleSmoking_fit = [[-8.4,-0.689],[13,1.066]];
const femaleSmoking_bandX = [-8.4,-4,0,4,8,13];
const femaleSmoking_bandHi = [-0.46,-0.20,0.07,0.46,0.88,1.41];
const femaleSmoking_bandLo = [-0.92,-0.46,-0.07,0.20,0.44,0.72];
const femaleAlcohol_fit = [[-8.25,0.118],[7.5,-0.107]];
const femaleAlcohol_bandX = [-8.25,-4,0,4,7.5];
const femaleAlcohol_bandHi = [0.41,0.21,0.065,0.095,0.16];
const femaleAlcohol_bandLo = [-0.18,-0.095,-0.065,-0.21,-0.38];
const femaleObesity_fit = [[-21.2,-0.437],[33.8,0.696]];
const femaleObesity_bandX = [-21.2,-10,0,10,20,33.8];
const femaleObesity_bandHi = [-0.22,-0.09,0.07,0.33,0.62,1.02];
const femaleObesity_bandLo = [-0.65,-0.33,-0.07,0.09,0.21,0.38];
const femaleHypertension_fit = [[-17.5,-0.154],[19.5,0.172]];
const femaleHypertension_bandX = [-17.5,-10,0,10,19.5];
const femaleHypertension_bandHi = [0.06,0.045,0.07,0.22,0.40];
const femaleHypertension_bandLo = [-0.36,-0.22,-0.07,-0.045,-0.06];

// tick labels
const xTicksHDI = [-3,-2,-1,0,1,2];
const xTicksGDP = [-2,0,2,4,6,8];
const xTicksSmoking = [-10,-5,0,5,10,15];
const xTicksAlcoholMale = [-15,-10,-5,0,5,10];
const xTicksAlcoholFemale = [-10,-5,0,5,10];
const xTicksObesity = [-20,0,20,40];
const xTicksHypertensionMale = [-20,-10,0,10,20,30];
const xTicksHypertensionFemale = [-20,-10,0,10,20];
const yTicksM2 = [-2,-1,0,1,2];
const yTicksM1 = [-1,0,1,2];
const yTicksF1 = [-1,0,1,2,3];
const yTicksF2 = [-2,-1,0,1,2,3];

// texts
const xTitles = ['e (HDI)','e (GDP)','e (smoking)','e (alcohol drinking)','e (obesity)','e (hypertension)',
                 'e (HDI)','e (GDP)','e (smoking)','e (alcohol drinking)','e (obesity)','e ( hypertension)'];
const coefNotes = [
 'coef = -.0022154, se =  .0571932, t = -0.04',
 'coef =  .0782066, se =   .035499, t =  2.20',
 'coef =  .0220984, se =  .0081591, t =  2.71',
 'coef =  .0106836, se =  .0090776, t =  1.18',
 'coef =  .0252785, se =  .0052087, t =  4.85',
 'coef =  .0131077, se =   .006566, t =  2.00',
 'coef =  .0197879, se =  .0466569, t =  0.42',
 'coef =  .0248726, se =  .0320269, t =  0.78',
 'coef =   .082016, se =  .0128559, t =  6.38',
 'coef = -.0143331, se =   .018078, t = -0.79',
 'coef =  .0206049, se =  .0044428, t =  4.64',
 'coef =  .0088203, se =  .0056201, t =  1.57'];
const yTitles = ['e (male incidence)','e (male incidence)','e (female incidence)','e (female incidence)'];

// ---------------- LAYOUT / STYLE ----------------
const NAVY = '#1a476f', ORANGE = '#ff7f00', FIT = '#8b3a3e';
const FONT = '"Liberation Sans", Arial, Helvetica, sans-serif';
const panels = [
 {pts:maleHDI, fit:maleHDI_fit, bx:maleHDI_bandX, bh:maleHDI_bandHi, bl:maleHDI_bandLo, xt:xTicksHDI, yt:yTicksM2, c:NAVY, xr:[-3.415,2.424], yr:[-2.206,2.397], g:[113,5,438,439], tx:345, ty:508, nx:344, ny:546},
 {pts:maleGDP, fit:maleGDP_fit, bx:maleGDP_bandX, bh:maleGDP_bandHi, bl:maleGDP_bandLo, xt:xTicksGDP, yt:yTicksM2, c:NAVY, xr:[-2.563,8.498], yr:[-2.208,2.426], g:[690,5,437,439], tx:944, ty:508, nx:921, ny:546},
 {pts:maleSmoking, fit:maleSmoking_fit, bx:maleSmoking_bandX, bh:maleSmoking_bandHi, bl:maleSmoking_bandLo, xt:xTicksSmoking, yt:yTicksM2, c:NAVY, xr:[-13.225,16.25], yr:[-2.204,2.344], g:[1267,5,436,439], tx:1495, ty:508, nx:1493, ny:546},
 {pts:maleAlcohol, fit:maleAlcohol_fit, bx:maleAlcohol_bandX, bh:maleAlcohol_bandHi, bl:maleAlcohol_bandLo, xt:xTicksAlcoholMale, yt:yTicksM1, c:NAVY, xr:[-16.228,11.18], yr:[-1.555,2.382], g:[113,626,438,438], tx:345, ty:1131, nx:344, ny:1171},
 {pts:maleObesity, fit:maleObesity_fit, bx:maleObesity_bandX, bh:maleObesity_bandHi, bl:maleObesity_bandLo, xt:xTicksObesity, yt:yTicksM1, c:NAVY, xr:[-23.08,42.96], yr:[-1.508,2.323], g:[690,626,437,438], tx:922, ty:1131, nx:921, ny:1171},
 {pts:maleHypertension, fit:maleHypertension_fit, bx:maleHypertension_bandX, bh:maleHypertension_bandHi, bl:maleHypertension_bandLo, xt:xTicksHypertensionMale, yt:yTicksM2, c:NAVY, xr:[-22.56,33.32], yr:[-2.211,2.51], g:[1267,626,436,438], tx:1496, ty:1131, nx:1490, ny:1171},
 {pts:femaleHDI, fit:femaleHDI_fit, bx:femaleHDI_bandX, bh:femaleHDI_bandHi, bl:femaleHDI_bandLo, xt:xTicksHDI, yt:yTicksF1, c:ORANGE, xr:[-3.314,2.372], yr:[-1.571,3.194], g:[113,1307,435,435], tx:344, ty:1809, nx:344, ny:1846},
 {pts:femaleGDP, fit:femaleGDP_fit, bx:femaleGDP_bandX, bh:femaleGDP_bandHi, bl:femaleGDP_bandLo, xt:xTicksGDP, yt:yTicksF2, c:ORANGE, xr:[-2.91,8.484], yr:[-2.227,3.222], g:[688,1307,435,435], tx:919, ty:1809, nx:919, ny:1846},
 {pts:femaleSmoking, fit:femaleSmoking_fit, bx:femaleSmoking_bandX, bh:femaleSmoking_bandHi, bl:femaleSmoking_bandLo, xt:xTicksSmoking, yt:yTicksF1, c:ORANGE, xr:[-11.21,16.17], yr:[-1.562,3.194], g:[1263,1307,435,435], tx:1490, ty:1809, nx:1496, ny:1846},
 {pts:femaleAlcohol, fit:femaleAlcohol_fit, bx:femaleAlcohol_bandX, bh:femaleAlcohol_bandHi, bl:femaleAlcohol_bandLo, xt:xTicksAlcoholFemale, yt:yTicksF2, c:ORANGE, xr:[-10.95,10.93], yr:[-2.231,3.222], g:[113,1926,435,436], tx:359, ty:2430, nx:384, ny:2465},
 {pts:femaleObesity, fit:femaleObesity_fit, bx:femaleObesity_bandX, bh:femaleObesity_bandHi, bl:femaleObesity_bandLo, xt:xTicksObesity, yt:yTicksF1, c:ORANGE, xr:[-24.21,42.73], yr:[-1.529,3.192], g:[688,1926,435,436], tx:940, ty:2430, nx:959, ny:2465},
 {pts:femaleHypertension, fit:femaleHypertension_fit, bx:femaleHypertension_bandX, bh:femaleHypertension_bandHi, bl:femaleHypertension_bandLo, xt:xTicksHypertensionFemale, yt:yTicksF2, c:ORANGE, xr:[-21.97,21.9], yr:[-2.231,3.222], g:[1263,1926,435,436], tx:1483, ty:2430, nx:1467, ny:2465}
];
const yTitlePos = [[19,203],[19,831],[19,1482],[19,2162]];

const grids=[], xAxes=[], yAxes=[], series=[], texts=[];
panels.forEach((p,i)=>{
  grids.push({left:p.g[0], top:p.g[1], width:p.g[2], height:p.g[3], containLabel:false});
  const axLine = {show:true, onZero:false, lineStyle:{color:'#000', width:2}};
  const axTick = (vals)=>({show:true, length:13, inside:false, customValues:vals, lineStyle:{color:'#000', width:2}});
  xAxes.push({type:'value', gridIndex:i, min:p.xr[0], max:p.xr[1], axisLine:axLine, axisTick:axTick(p.xt),
    axisLabel:{customValues:p.xt, fontSize:29, color:'#000', fontFamily:FONT, margin:17}, splitLine:{show:false}});
  yAxes.push({type:'value', gridIndex:i, min:p.yr[0], max:p.yr[1], axisLine:axLine, axisTick:axTick(p.yt),
    axisLabel:{customValues:p.yt, fontSize:29, color:'#000', fontFamily:FONT, margin:27, rotate:90}, splitLine:{show:false}});
  const bx=p.bx, bh=p.bh, bl=p.bl;
  series.push({type:'custom', xAxisIndex:i, yAxisIndex:i, z:1, silent:true,
    data: bx.map((x,k)=>[x, bl[k], bh[k]]),
    encode:{x:0, y:[1,2]},
    renderItem:(params, api)=>{
      if (params.dataIndex !== 0) return null;
      const poly=[];
      for (let k=0;k<bx.length;k++) poly.push(api.coord([bx[k], bh[k]]));
      for (let k=bx.length-1;k>=0;k--) poly.push(api.coord([bx[k], bl[k]]));
      return {type:'polygon', shape:{points:poly}, style:{fill:'#cccccc', stroke:'#bcbcbc', lineWidth:1.5}};
    }});
  series.push({type:'scatter', xAxisIndex:i, yAxisIndex:i, z:2, data:p.pts, symbol:'circle', symbolSize:13,
    itemStyle:{color:p.c, opacity:1}, silent:true});
  series.push({type:'line', xAxisIndex:i, yAxisIndex:i, z:3, data:p.fit, showSymbol:false, symbol:'none',
    lineStyle:{color:FIT, width:4.5}, silent:true});
  texts.push({type:'text', x:p.tx, y:p.ty, style:{text:xTitles[i], fontSize:28, fontWeight:'bold', fontFamily:FONT, fill:'#000', align:'center', verticalAlign:'middle'}});
  texts.push({type:'text', x:p.nx, y:p.ny, style:{text:coefNotes[i], fontSize:24, fontFamily:FONT, fill:'#000', align:'center', verticalAlign:'middle'}});
});
yTitles.forEach((t,r)=>{
  texts.push({type:'text', x:yTitlePos[r][0], y:yTitlePos[r][1], rotation:Math.PI/2,
    style:{text:t, fontSize:28, fontWeight:'bold', fontFamily:FONT, fill:'#000', align:'center', verticalAlign:'middle'}});
});

const chart = echarts.init(document.getElementById('c'), null, {renderer:'canvas', width:1720, height:2480});
chart.setOption({
  backgroundColor:'#ffffff', animation:false,
  grid:grids, xAxis:xAxes, yAxis:yAxes, series:series,
  graphic:{elements:texts}
});
</script></body></html>
